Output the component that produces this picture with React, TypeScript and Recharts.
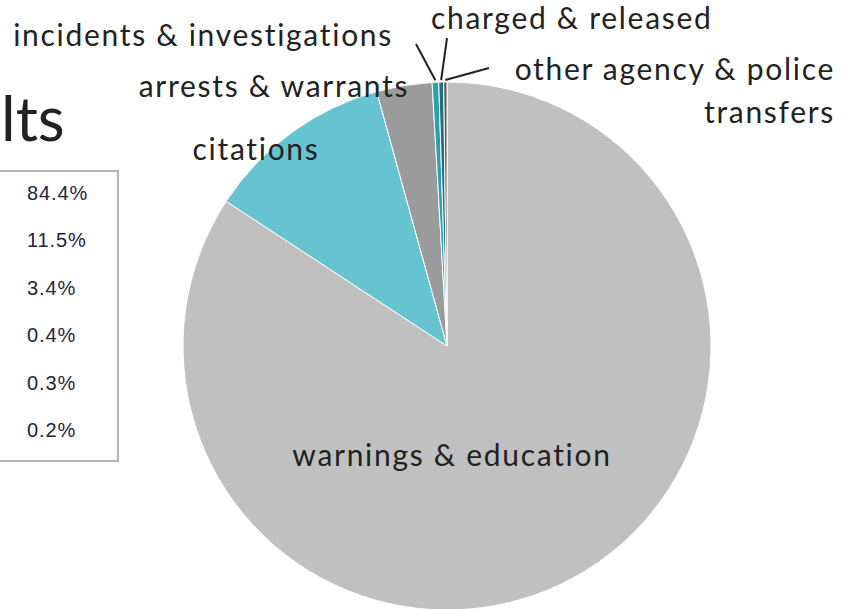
import { PieChart, Pie, Cell } from 'recharts';

const categories = [
  'warnings & education',
  'citations',
  'arrests & warrants',
  'incidents & investigations',
  'charged & released',
  'other agency & police transfers',
];
const shares = [84.4, 11.5, 3.4, 0.4, 0.3, 0.2];
const colors = ['#c0c0c0', '#66c4d1', '#9b9b9b', '#2c9fb0', '#1f6f7c', '#5a5a5a'];

const data = categories.map((name, i) => ({ name, value: shares[i] }));

// where each label sits (text lines + optional leader line start)
const labelLayout = [
  { x: 452, y: 466, anchor: 'middle', lines: ['warnings & education'] },
  { x: 256, y: 160, anchor: 'middle', lines: ['citations'] },
  { x: 274, y: 97, anchor: 'middle', lines: ['arrests & warrants'] },
  { x: 393, y: 46, anchor: 'end', lines: ['incidents & investigations'], lead: [416, 44] },
  { x: 431, y: 29, anchor: 'start', lines: ['charged & released'], lead: [447, 38] },
  { x: 835, y: 80, anchor: 'end', lines: ['other agency & police', 'transfers'], lead: [489, 68] },
];

const RAD = Math.PI / 180;
const FONT = 'Lato, "Noto Sans", sans-serif';

const renderLabel = (props: any) => {
  const { cx, cy, midAngle, outerRadius, index } = props;
  const l = labelLayout[index];
  const ex = cx + (outerRadius + 2) * Math.cos(-midAngle * RAD);
  const ey = cy + (outerRadius + 2) * Math.sin(-midAngle * RAD);
  return (
    <g key={`lbl-${index}`}>
      {l.lead && (
        <line x1={l.lead[0]} y1={l.lead[1]} x2={ex} y2={ey} stroke="#222" strokeWidth={2} />
      )}
      {l.lines.map((t, j) => (
        <text
          key={j}
          x={l.x}
          y={l.y + j * 43}
          textAnchor={l.anchor as any}
          fill="#222"
          fontSize={30}
          fontFamily={FONT}
          style={{ letterSpacing: '1.7px' }}
        >
          {t}
        </text>
      ))}
    </g>
  );
};

export default function App() {
  return (
    <div style={{ position: 'absolute', left: 0, top: 0, width: 856, height: 609, background: '#fff', overflow: 'hidden' }}>
      <div
        style={{
          position: 'absolute',
          left: 1,
          top: 86,
          fontFamily: FONT,
          fontSize: 62,
          color: '#222',
          lineHeight: '62px',
        }}
      >
        lts
      </div>
      <div
        style={{
          position: 'absolute',
          left: -2,
          top: 170,
          width: 121,
          height: 292,
          border: '2px solid #b4b4b4',
          boxSizing: 'border-box',
          background: '#fff',
        }}
      >
        {shares.map((s, i) => (
          <div
            key={i}
            style={{
              position: 'absolute',
              left: 27,
              top: 10 + i * 47.4,
              fontFamily: '"Liberation Sans", Arial, sans-serif',
              fontSize: 20,
              letterSpacing: '0.9px',
              color: '#1c2540',
            }}
          >
            {s.toFixed(1)}%
          </div>
        ))}
      </div>
      <div style={{ position: 'absolute', left: 0, top: 0 }}>
        <PieChart width={856} height={609} margin={{ top: 0, right: 0, bottom: 0, left: 0 }}>
          <Pie
            data={data}
            dataKey="value"
            nameKey="name"
            cx={447}
            cy={346}
            outerRadius={264}
            startAngle={90}
            endAngle={-270}
            stroke="#fff"
            strokeWidth={1}
            label={renderLabel}
            labelLine={false}
            isAnimationActive={false}
          >
            {data.map((d, i) => (
              <Cell key={d.name} fill={colors[i]} />
            ))}
          </Pie>
        </PieChart>
      </div>
    </div>
  );
}
